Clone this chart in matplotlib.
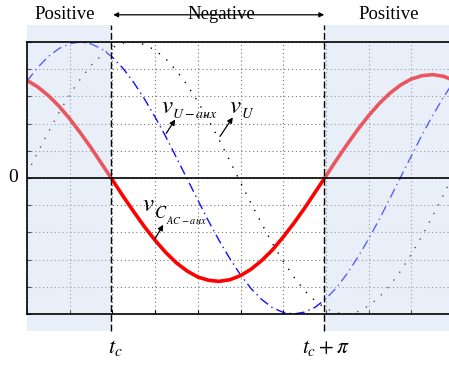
import numpy as np
import matplotlib
matplotlib.use("Agg")
import matplotlib.pyplot as plt
from matplotlib.patches import Rectangle

plt.rcParams["font.family"] = ["Liberation Serif", "DejaVu Serif"]
plt.rcParams["mathtext.fontset"] = "stix"

# ── 数据（从原图读取，横轴 1 格 = 1，纵轴 1 格 = 1）──────────────
t = np.arange(0, 10.01, 0.25)

v_cac_aux = [3.59, 3.35, 3.03, 2.64, 2.18, 1.66, 1.11, 0.52, -0.07, -0.67,
             -1.24, -1.79, -2.29, -2.74, -3.12, -3.42, -3.64, -3.76, -3.80, -3.74,
             -3.59, -3.35, -3.03, -2.64, -2.17, -1.66, -1.11, -0.52, 0.07, 0.67,
             1.24, 1.79, 2.29, 2.74, 3.12, 3.42, 3.64, 3.76, 3.80, 3.74, 3.59]

v_u_aux = [3.56, 4.06, 4.47, 4.76, 4.94, 5.00, 4.93, 4.75, 4.44, 4.03,
           3.51, 2.91, 2.24, 1.52, 0.75, -0.03, -0.81, -1.58, -2.30, -2.96,
           -3.56, -4.07, -4.47, -4.77, -4.94, -5.00, -4.93, -4.75, -4.44, -4.03,
           -3.51, -2.91, -2.24, -1.52, -0.75, 0.03, 0.81, 1.58, 2.30, 2.96, 3.56]

v_u = [0.16, 0.94, 1.69, 2.41, 3.06, 3.64, 4.14, 4.52, 4.80, 4.96,
       5.00, 4.91, 4.70, 4.38, 3.95, 3.42, 2.81, 2.13, 1.40, 0.63,
       -0.16, -0.94, -1.69, -2.41, -3.06, -3.64, -4.14, -4.52, -4.80, -4.96,
       -5.00, -4.91, -4.70, -4.38, -3.95, -3.42, -2.81, -2.13, -1.40, -0.63, 0.16]

tc = 1.97            # t_c
tc_pi = 6.96         # t_c + pi
region_labels = ["Positive", "Negative", "Positive"]

fig = plt.figure(figsize=(4.49, 3.68), dpi=100)
ax = fig.add_axes([27 / 449, 1 - 314 / 368, 427 / 449, 272 / 368])
ax.set_xlim(0, 10)
ax.set_ylim(-5, 5)

# ── 网格 & 坐标轴 ─────────────────────────────────
ax.set_xticks(np.arange(0, 11, 1))
ax.set_yticks(np.arange(-5, 6, 1))
ax.set_xticklabels([])
ax.set_yticklabels([])
ax.tick_params(direction="in", length=3, width=0.8)
ax.grid(True, linestyle=(0, (1, 2.5)), color="#777777", linewidth=0.8)
for s in ["top", "bottom", "left"]:
    ax.spines[s].set_linewidth(1.2)
    ax.spines[s].set_zorder(10)
ax.spines["right"].set_visible(False)
ax.axhline(0, color="k", lw=1.2, zorder=8)

# ── 曲线 ─────────────────────────────────────────
ax.plot(t, v_u, color="k", lw=1.0, linestyle=(0, (1, 6)), zorder=3)
ax.plot(t, v_u_aux, color="#1010ff", lw=1.0, linestyle=(0, (7, 3, 1, 3)), zorder=3)
ax.plot(t, v_cac_aux, color="red", lw=2.6, zorder=3)

# ── 阴影区（叠在曲线上面）──────────────────────────
ytop, ybot = 5.62, -5.62
for x0, x1 in [(0, tc), (tc_pi, 10.2)]:
    ax.add_patch(Rectangle((x0, ybot), x1 - x0, ytop - ybot, facecolor="#c8d8f0",
                           alpha=0.4, edgecolor="none", zorder=5, clip_on=False))
for xv in [tc, tc_pi]:
    ax.plot([xv, xv], [ybot, ytop], color="k", lw=1.0, linestyle=(0, (5, 2)),
            zorder=9, clip_on=False)

# ── 文字 ─────────────────────────────────────────
ax.text(0.89, 6.0, region_labels[0], ha="center", va="center", fontsize=13.5)
ax.text(4.55, 6.0, region_labels[1], ha="center", va="center", fontsize=13.5)
ax.text(8.48, 6.0, region_labels[2], ha="center", va="center", fontsize=13.5)
ax.annotate("", xy=(tc + 0.05, 6.0), xytext=(tc_pi, 6.0),
            arrowprops=dict(arrowstyle="<|-|>", color="k", lw=0.9,
                            mutation_scale=7, shrinkA=0, shrinkB=0),
            annotation_clip=False)

ax.text(-0.33, 0, "0", ha="center", va="center", fontsize=14)
ax.text(tc + 0.1, -6.25, r"$t_c$", ha="center", va="center", fontsize=16)
ax.text(tc_pi + 0.05, -6.25, r"$t_c+\pi$", ha="center", va="center", fontsize=15.5)

arrow = dict(arrowstyle="-|>", color="k", lw=0.9, mutation_scale=8,
             shrinkA=0, shrinkB=0)


def vlabel(x, y, parts):
    """v + 逐级缩小的下标；parts = [(text, dx_px, dy_px, size), ...]"""
    ax.text(x, y, r"$v$", fontsize=18, va="baseline", ha="left", zorder=7)
    for txt, dx, dy, size in parts:
        ax.annotate(txt, xy=(x, y), xytext=(dx * 0.72, dy * 0.72),
                    textcoords="offset points", fontsize=size,
                    va="baseline", ha="left", zorder=7)


ax.annotate("", xy=(3.47, 2.15), xytext=(3.26, 1.64), arrowprops=arrow)
vlabel(3.14, 2.4, [(r"$U-aux$", 11, -5, 10)])
ax.annotate("", xy=(4.82, 2.23), xytext=(4.52, 1.53), arrowprops=arrow)
vlabel(4.73, 2.4, [(r"$U$", 12, -5, 10.5)])
ax.annotate("", xy=(3.19, -1.72), xytext=(3.0, -2.23), arrowprops=arrow)
vlabel(2.7, -1.2, [(r"$C$", 12, -7, 12), (r"$AC-aux$", 24, -13, 7.5)])

plt.savefig("out.png", dpi=100)
